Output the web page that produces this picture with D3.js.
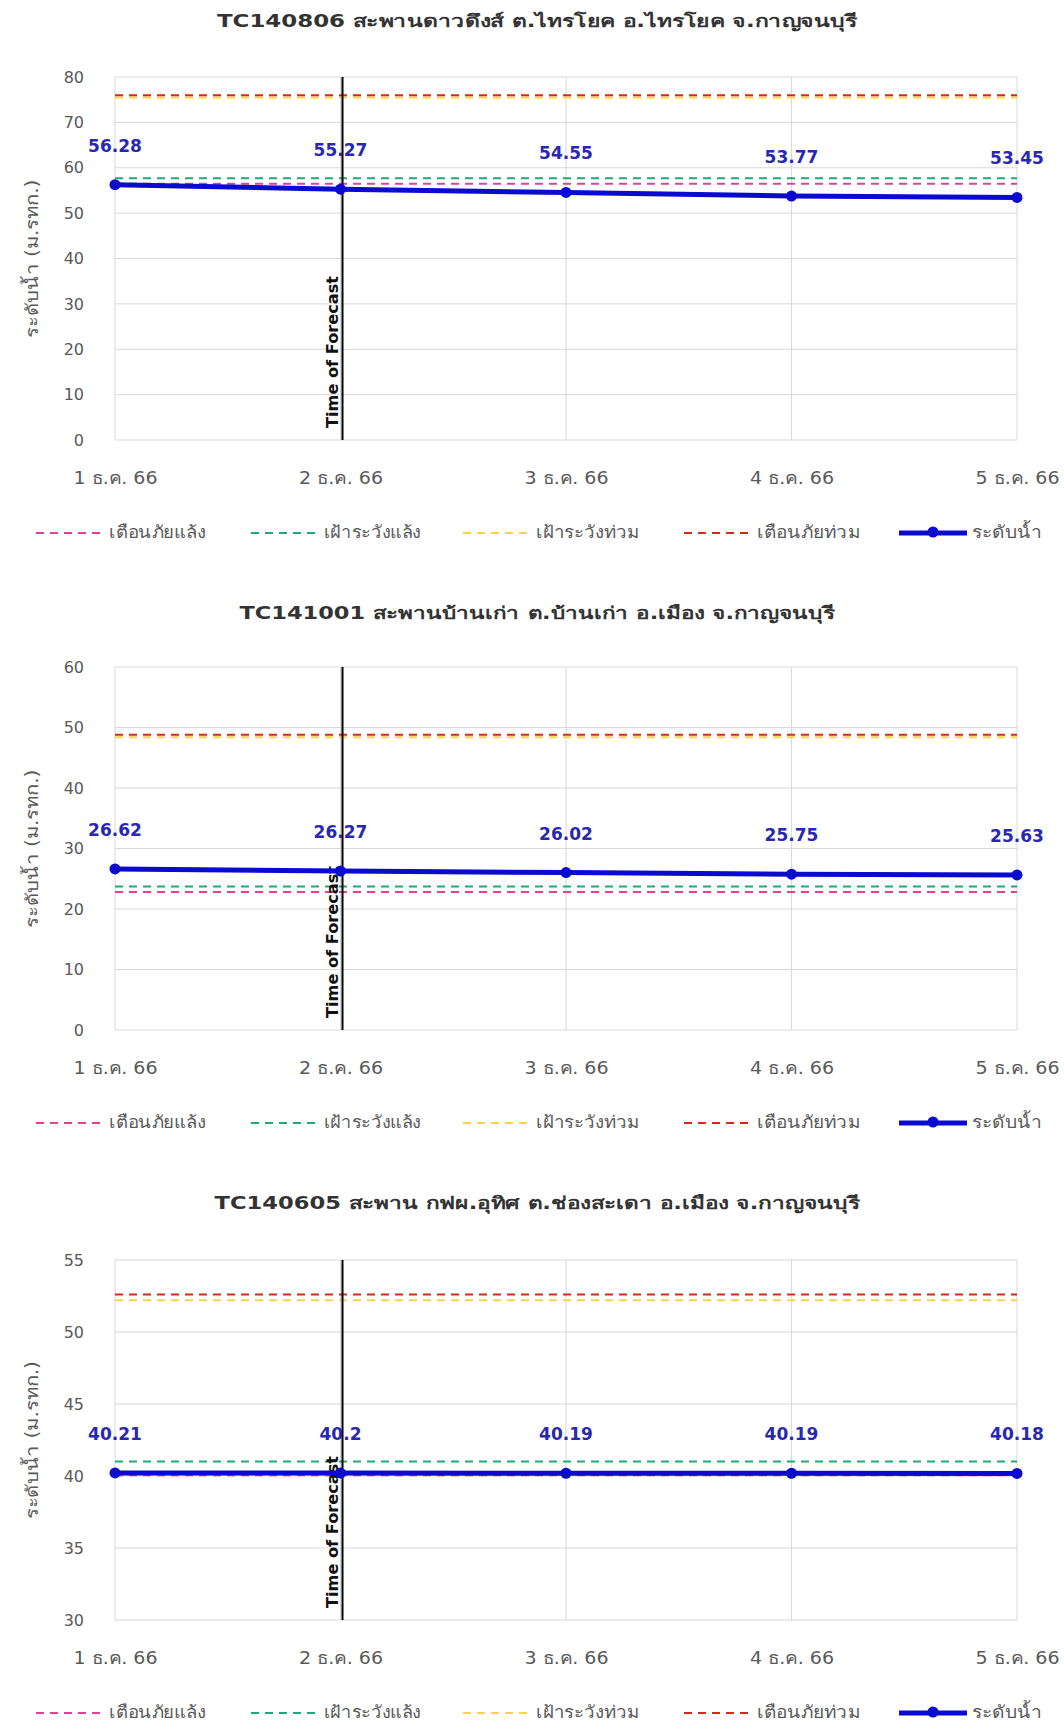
<!DOCTYPE html>
<html>
<head>
<meta charset="utf-8">
<script src="https://cdn.jsdelivr.net/npm/d3@7"></script>
<style>
  html, body { margin: 0; padding: 0; background: #ffffff; }
  svg { display: block; }
  text { font-family: Tahoma, "DejaVu Sans", "Noto Sans", sans-serif; }
</style>
</head>
<body>
<svg id="chart" width="1064" height="1729"></svg>
<script>
// ---------- data ----------
const categories = ["1 ธ.ค. 66", "2 ธ.ค. 66", "3 ธ.ค. 66", "4 ธ.ค. 66", "5 ธ.ค. 66"];
const forecastCategory = "2 ธ.ค. 66";
const titles = [
  "TC140806 สะพานดาวดึงส์ ต.ไทรโยค อ.ไทรโยค จ.กาญจนบุรี",
  "TC141001 สะพานบ้านเก่า ต.บ้านเก่า อ.เมือง จ.กาญจนบุรี",
  "TC140605 สะพาน กฟผ.อุทิศ ต.ช่องสะเดา อ.เมือง จ.กาญจนบุรี"
];
const levelsTC140806 = [56.28, 55.27, 54.55, 53.77, 53.45];
const levelsTC141001 = [26.62, 26.27, 26.02, 25.75, 25.63];
const levelsTC140605 = [40.21, 40.2, 40.19, 40.19, 40.18];
const droughtWarning = [56.5, 22.8, 40.05];   // เตือนภัยแล้ง
const droughtWatch   = [57.7, 23.7, 41.0];    // เฝ้าระวังแล้ง
const floodWatch     = [75.5, 48.4, 52.2];    // เฝ้าระวังท่วม
const floodWarning   = [76.0, 48.8, 52.6];    // เตือนภัยท่วม
const yMin = [0, 0, 30];
const yMax = [80, 60, 55];
const yStep = [10, 10, 5];
const yAxisTitle = "ระดับน้ำ (ม.รทก.)";
const forecastLabel = "Time of Forecast";
const legendLabels = ["เตือนภัยแล้ง", "เฝ้าระวังแล้ง", "เฝ้าระวังท่วม", "เตือนภัยท่วม", "ระดับน้ำ"];

// ---------- styles ----------
const thresholdColors = ["#e0409c", "#20a878", "#ffd24a", "#d42a1a"];
const lineColor = "#0a0ad0";
const labelColor = "#2828b0";
const gridColor = "#d9d9d9";
const tickColor = "#595959";

const svg = d3.select("#chart");
const levelsAll = [levelsTC140806, levelsTC141001, levelsTC140605];
const thresholdsAll = [droughtWarning, droughtWatch, floodWatch, floodWarning];

const chartTop = [77, 667, 1260];
const chartHeight = [363, 363, 360];
const titleY = [22, 614, 1204];
const titleWidth = [640, 595, 645];
const plotLeft = 115, plotRight = 1017;

const x = d3.scalePoint().domain(categories).range([plotLeft, plotRight]);

levelsAll.forEach((levels, i) => {
  const g = svg.append("g");
  const top = chartTop[i], bottom = top + chartHeight[i];
  const y = d3.scaleLinear().domain([yMin[i], yMax[i]]).range([bottom, top]);
  const ticks = d3.range(yMin[i], yMax[i] + 0.001, yStep[i]);

  // title
  g.append("text").attr("x", 537).attr("y", titleY[i])
    .attr("text-anchor", "middle").attr("dominant-baseline", "middle")
    .attr("font-size", 17).attr("font-weight", "bold").attr("fill", "#333")
    .attr("textLength", titleWidth[i]).attr("lengthAdjust", "spacingAndGlyphs")
    .text(titles[i]);

  // horizontal grid
  g.append("g").selectAll("line").data(ticks).join("line")
    .attr("x1", plotLeft).attr("x2", plotRight)
    .attr("y1", d => y(d)).attr("y2", d => y(d))
    .attr("stroke", gridColor).attr("stroke-width", 1);
  // vertical grid
  g.append("g").selectAll("line").data(categories).join("line")
    .attr("x1", d => x(d)).attr("x2", d => x(d))
    .attr("y1", top).attr("y2", bottom)
    .attr("stroke", gridColor).attr("stroke-width", 1);

  // y axis
  const yAxis = d3.axisLeft(y).tickValues(ticks).tickSize(0).tickPadding(0).tickFormat(d3.format("d"));
  const ya = g.append("g").attr("transform", `translate(${plotLeft - 31},0)`).call(yAxis);
  ya.select(".domain").remove();
  ya.selectAll("text").attr("font-size", 16).attr("fill", tickColor)
    .style("font-family", 'Tahoma, "DejaVu Sans", sans-serif');

  // x axis
  const xAxis = d3.axisBottom(x).tickSize(0).tickPadding(0);
  const xa = g.append("g").attr("transform", `translate(0,${bottom + 32})`).call(xAxis);
  xa.select(".domain").remove();
  xa.selectAll("text").attr("font-size", 17).attr("fill", tickColor)
    .style("font-family", 'Tahoma, "DejaVu Sans", sans-serif')
    .attr("textLength", 84).attr("lengthAdjust", "spacingAndGlyphs");

  // y axis title
  g.append("text")
    .attr("transform", `translate(38,${(top + bottom) / 2}) rotate(-90)`)
    .attr("text-anchor", "middle").attr("font-size", 17).attr("fill", tickColor)
    .attr("textLength", 158).attr("lengthAdjust", "spacingAndGlyphs")
    .text(yAxisTitle);

  // thresholds
  thresholdsAll.forEach((arr, k) => {
    g.append("line")
      .attr("x1", plotLeft).attr("x2", plotRight)
      .attr("y1", y(arr[i])).attr("y2", y(arr[i]))
      .attr("stroke", thresholdColors[k]).attr("stroke-width", 2)
      .attr("stroke-dasharray", "8,6");
  });

  // forecast line
  const fx = x(forecastCategory) + 2;
  g.append("line").attr("x1", fx).attr("x2", fx).attr("y1", top).attr("y2", bottom)
    .attr("stroke", "#000").attr("stroke-width", 2);
  g.append("text")
    .attr("transform", `translate(${fx - 5},${bottom - 12}) rotate(-90)`)
    .attr("font-size", 15).attr("font-weight", "bold").attr("fill", "#111")
    .attr("textLength", 152).attr("lengthAdjust", "spacingAndGlyphs")
    .text(forecastLabel);

  // water level line
  const pts = categories.map((c, j) => [c, levels[j]]);
  g.append("path").datum(pts)
    .attr("d", d3.line().x(d => x(d[0])).y(d => y(d[1])))
    .attr("fill", "none").attr("stroke", lineColor).attr("stroke-width", 5);
  g.append("g").selectAll("circle").data(pts).join("circle")
    .attr("cx", d => x(d[0])).attr("cy", d => y(d[1])).attr("r", 5.5)
    .attr("fill", lineColor);
  g.append("g").selectAll("text").data(pts).join("text")
    .attr("x", d => x(d[0])).attr("y", d => y(d[1]) - 38)
    .attr("text-anchor", "middle").attr("dominant-baseline", "middle")
    .attr("font-size", 17).attr("font-weight", "bold").attr("fill", labelColor)
    .text(d => String(d[1]));

  // legend
  const ly = bottom + 93;
  const legendX = [36, 251, 463, 684, 899];
  const legendW = [97, 97, 103, 103, 70];
  legendLabels.forEach((lab, k) => {
    const lx = legendX[k];
    if (k < 4) {
      g.append("line").attr("x1", lx).attr("x2", lx + 68).attr("y1", ly).attr("y2", ly)
        .attr("stroke", thresholdColors[k]).attr("stroke-width", 2)
        .attr("stroke-dasharray", "8,6");
    } else {
      g.append("line").attr("x1", lx).attr("x2", lx + 68).attr("y1", ly).attr("y2", ly)
        .attr("stroke", lineColor).attr("stroke-width", 5);
      g.append("circle").attr("cx", lx + 34).attr("cy", ly - 1).attr("r", 5.5).attr("fill", lineColor);
    }
    g.append("text").attr("x", lx + 73).attr("y", ly).attr("dominant-baseline", "middle")
      .attr("font-size", 17).attr("fill", tickColor)
      .attr("textLength", legendW[k]).attr("lengthAdjust", "spacingAndGlyphs")
      .text(lab);
  });
});
</script>
</body>
</html>
